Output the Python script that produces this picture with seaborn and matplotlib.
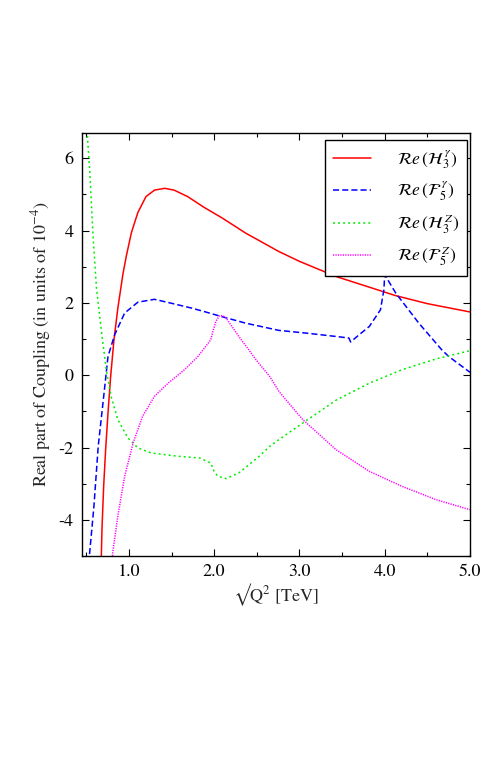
import numpy as np
import pandas as pd
import matplotlib
matplotlib.use("Agg")
import matplotlib.pyplot as plt
import seaborn as sns
from matplotlib.ticker import MultipleLocator, FixedLocator, FixedFormatter

sns.set_theme(style="white")
plt.rcParams['font.family'] = ['STIXGeneral', 'Liberation Serif', 'DejaVu Serif']
plt.rcParams['mathtext.fontset'] = 'stix'
plt.rcParams['axes.unicode_minus'] = False

# ---- data ----
x_h3g = [0.675, 0.684, 0.704, 0.727, 0.755, 0.786, 0.825, 0.87, 0.93, 0.97, 1.03, 1.105,
         1.20, 1.30, 1.42, 1.53, 1.69, 1.87, 2.1, 2.37, 2.76, 3.0, 3.43, 3.8, 4.13, 4.5, 5.0]
y_h3g = [-5.2, -4.27, -3.07, -2.06, -1.04, -0.03, 0.98, 1.85, 2.8, 3.3, 3.95, 4.5,
         4.94, 5.12, 5.17, 5.12, 4.94, 4.66, 4.34, 3.93, 3.42, 3.15, 2.73, 2.45, 2.2, 1.98, 1.75]

x_f5g = [0.53, 0.54, 0.59, 0.64, 0.70, 0.755, 0.833, 0.95, 1.105, 1.30, 1.50, 1.73, 1.885,
         2.06, 2.37, 2.76, 3.1, 3.4, 3.58, 3.60, 3.70, 3.82, 3.95, 3.99, 4.00, 4.13, 4.4,
         4.67, 4.75, 5.0]
y_f5g = [-5.2, -4.91, -3.62, -1.97, -0.68, 0.52, 1.12, 1.72, 2.02, 2.10, 1.99, 1.86, 1.76,
         1.64, 1.44, 1.24, 1.16, 1.08, 1.03, 0.92, 1.12, 1.35, 1.81, 2.36, 2.78, 2.27, 1.44,
         0.70, 0.52, 0.08]

x_h3z = [0.505, 0.54, 0.58, 0.62, 0.64, 0.68, 0.735, 0.79, 0.87, 0.99, 1.105, 1.26, 1.57,
         1.83, 1.96, 2.0, 2.04, 2.14, 2.29, 2.53, 2.65, 2.76, 3.04, 3.43, 3.82, 4.2, 4.6, 5.0]
y_h3z = [6.9, 5.68, 3.83, 2.4, 1.99, 1.17, 0.15, -0.58, -1.23, -1.74, -2.01, -2.15, -2.24,
         -2.29, -2.43, -2.66, -2.79, -2.86, -2.70, -2.24, -1.97, -1.78, -1.32, -0.69, -0.22,
         0.15, 0.45, 0.68]

x_f5z = [0.80, 0.81, 0.87, 0.95, 1.05, 1.16, 1.30, 1.46, 1.65, 1.81, 1.885, 1.96, 1.98,
         2.02, 2.06, 2.10, 2.14, 2.22, 2.29, 2.41, 2.49, 2.65, 2.76, 3.04, 3.43, 3.82, 4.2,
         4.6, 5.0]
y_f5z = [-5.2, -4.91, -3.9, -2.8, -1.87, -1.14, -0.58, -0.22, 0.15, 0.52, 0.75, 0.98, 1.17,
         1.49, 1.64, 1.65, 1.58, 1.31, 1.07, 0.69, 0.43, -0.03, -0.45, -1.23, -2.06, -2.66,
         -3.07, -3.44, -3.72]

labels = [r'$\mathcal{R}e\,(\mathcal{H}_3^{\;\gamma})$',
          r'$\mathcal{R}e\,(\mathcal{F}_5^{\;\gamma})$',
          r'$\mathcal{R}e\,(\mathcal{H}_3^{\;Z})$',
          r'$\mathcal{R}e\,(\mathcal{F}_5^{\;Z})$']

x_ticks = [1.0, 2.0, 3.0, 4.0, 5.0]
x_ticklabels = ['1.0', '2.0', '3.0', '4.0', '5.0']
y_ticks = [-4, -2, 0, 2, 4, 6]
y_ticklabels = ['-4', '-2', '0', '2', '4', '6']

fig = plt.figure(figsize=(4.91, 7.63), dpi=100)
ax = fig.add_axes([82/491, 1-556/763, (470-82)/491, (556-133)/763])

series = [
    (x_h3g, y_h3g, '#ff0000', None),
    (x_f5g, y_f5g, '#0000ff', (4, 2)),
    (x_h3z, y_h3z, '#00ee00', (1.3, 2.0)),
    (x_f5z, y_f5z, '#ff00ff', (0.8, 0.8)),
]
for (xs, ys, c, d), lab in zip(series, labels):
    df = pd.DataFrame({'x': xs, 'y': ys})
    sns.lineplot(data=df, x='x', y='y', ax=ax, color=c, lw=1.1,
                 label=lab, sort=False, estimator=None)
    if d is not None:
        ax.lines[-1].set_dashes(d)

ax.set_xlim(0.45, 5.0)
ax.set_ylim(-5, 6.7)
ax.xaxis.set_major_locator(FixedLocator(x_ticks))
ax.xaxis.set_major_formatter(FixedFormatter(x_ticklabels))
ax.xaxis.set_minor_locator(MultipleLocator(0.5))
ax.yaxis.set_major_locator(FixedLocator(y_ticks))
ax.yaxis.set_major_formatter(FixedFormatter(y_ticklabels))
ax.yaxis.set_minor_locator(MultipleLocator(1))
ax.tick_params(which='both', direction='in', top=True, right=True, bottom=True, left=True,
               labelsize=13, colors='black', width=0.8, pad=6)
ax.tick_params(which='major', length=5)
ax.tick_params(which='minor', length=3)
for s in ax.spines.values():
    s.set_color('black')
    s.set_linewidth(1.0)

ax.set_xlabel('\u221aQ$^2$ [TeV]', fontsize=13, labelpad=1)
ax.set_ylabel('Real part of Coupling (in units of 10$^{-4}$)', fontsize=13, labelpad=4)

leg = ax.legend(loc='upper right', bbox_to_anchor=(0.992, 0.983), borderaxespad=0,
                frameon=True, fancybox=False, edgecolor='black', framealpha=1,
                fontsize=12.5, handlelength=2.2, handletextpad=1.5, labelspacing=0.5,
                borderpad=0.45)
leg.get_frame().set_linewidth(1.0)
for t in leg.get_texts():
    t.set_color('black')

fig.savefig('out.png', dpi=100)
